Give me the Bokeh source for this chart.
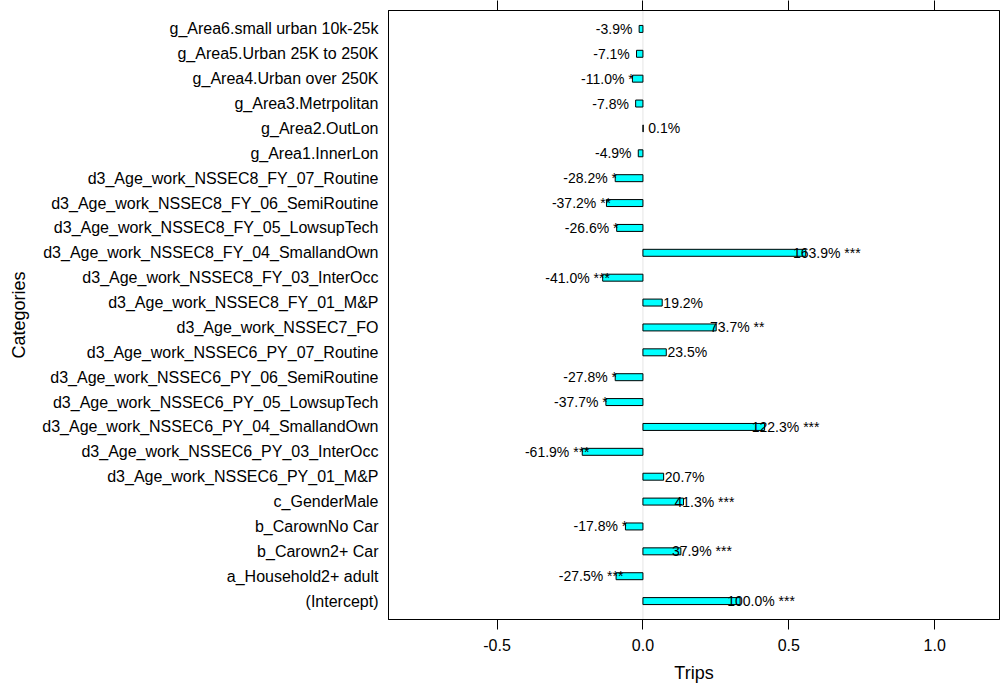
from bokeh.plotting import figure
from bokeh.models import (FactorRange, Range1d, LinearAxis, FixedTicker,
                          NumeralTickFormatter, Span, ColumnDataSource)
from bokeh.core.properties import value
from bokeh.embed import file_html
from bokeh.resources import INLINE

# ---- data (top row of the chart first) ----
categories = [
    "g_Area6.small urban 10k-25k",
    "g_Area5.Urban 25K to 250K",
    "g_Area4.Urban over 250K",
    "g_Area3.Metrpolitan",
    "g_Area2.OutLon",
    "g_Area1.InnerLon",
    "d3_Age_work_NSSEC8_FY_07_Routine",
    "d3_Age_work_NSSEC8_FY_06_SemiRoutine",
    "d3_Age_work_NSSEC8_FY_05_LowsupTech",
    "d3_Age_work_NSSEC8_FY_04_SmallandOwn",
    "d3_Age_work_NSSEC8_FY_03_InterOcc",
    "d3_Age_work_NSSEC8_FY_01_M&P",
    "d3_Age_work_NSSEC7_FO",
    "d3_Age_work_NSSEC6_PY_07_Routine",
    "d3_Age_work_NSSEC6_PY_06_SemiRoutine",
    "d3_Age_work_NSSEC6_PY_05_LowsupTech",
    "d3_Age_work_NSSEC6_PY_04_SmallandOwn",
    "d3_Age_work_NSSEC6_PY_03_InterOcc",
    "d3_Age_work_NSSEC6_PY_01_M&P",
    "c_GenderMale",
    "b_CarownNo Car",
    "b_Carown2+ Car",
    "a_Household2+ adult",
    "(Intercept)",
]
coefficients = [
    -0.013, -0.022, -0.036, -0.025, 0.001, -0.016,
    -0.095, -0.125, -0.090, 0.558, -0.138, 0.066,
    0.251, 0.080, -0.095, -0.127, 0.417, -0.208,
    0.071, 0.139, -0.060, 0.130, -0.092, 0.333,
]
percent = [
    -3.9, -7.1, -11.0, -7.8, 0.1, -4.9,
    -28.2, -37.2, -26.6, 163.9, -41.0, 19.2,
    73.7, 23.5, -27.8, -37.7, 122.3, -61.9,
    20.7, 41.3, -17.8, 37.9, -27.5, 100.0,
]
stars = [
    "", "", "*", "", "", "",
    "*", "**", "*", "***", "***", "",
    "**", "", "*", "*", "***", "***",
    "", "***", "*", "***", "***", "***",
]
x_ticks = [-0.5, 0.0, 0.5, 1.0]
x_title = "Trips"
y_title = "Categories"

FONT_NAME = "Liberation Sans"
FONT = value(FONT_NAME)

labels = [(f"{p:.1f}% {s}").strip() for p, s in zip(percent, stars)]

p = figure(
    width=1001, height=685,
    y_range=FactorRange(factors=list(reversed(categories)),
                        range_padding=0.24, range_padding_units="absolute"),
    x_range=Range1d(-0.872, 1.222),
    output_backend="svg", toolbar_location=None,
    min_border_left=388, min_border_right=2, min_border_top=0, min_border_bottom=0,
)
p.background_fill_color = "white"
p.border_fill_color = "white"
p.outline_line_color = "black"
p.outline_line_width = 1
p.outline_line_alpha = 1.0
p.xgrid.visible = False
p.ygrid.visible = False

# reference line at zero
p.add_layout(Span(location=0, dimension="height", line_color="#e6e6e6",
                  line_width=1, level="underlay"))

src = ColumnDataSource(dict(cat=categories, coef=coefficients, label=labels))
p.hbar(y="cat", left=0, right="coef", height=0.28, source=src,
       fill_color="#00FFFF", line_color="black", line_width=1)

pos = ColumnDataSource(dict(
    cat=[c for c, v in zip(categories, coefficients) if v >= 0],
    coef=[v for v in coefficients if v >= 0],
    label=[l for l, v in zip(labels, coefficients) if v >= 0]))
neg = ColumnDataSource(dict(
    cat=[c for c, v in zip(categories, coefficients) if v < 0],
    coef=[v for v in coefficients if v < 0],
    label=[l for l, v in zip(labels, coefficients) if v < 0]))

for s, off in ((pos, 21), (neg, -25)):
    p.text(x="coef", y="cat", text="label", source=s, x_offset=off,
           text_align="center", text_baseline="middle",
           text_font=FONT, text_font_size="14px", text_color="black")

# bottom axis
xa = p.xaxis[0]
xa.ticker = FixedTicker(ticks=x_ticks)
xa.formatter = NumeralTickFormatter(format="0.0")
xa.major_tick_out = 10
xa.major_tick_in = 0
xa.minor_tick_out = 0
xa.minor_tick_in = 0
xa.major_label_standoff = 9
xa.major_label_text_font = FONT_NAME
xa.major_label_text_font_size = "16px"
xa.major_label_text_color = "black"
xa.axis_label = x_title
xa.axis_label_text_font = FONT_NAME
xa.axis_label_text_font_size = "18px"
xa.axis_label_text_font_style = "normal"
xa.axis_label_text_color = "black"
xa.axis_label_standoff = 9
xa.axis_line_color = "black"
xa.major_tick_line_color = "black"

# top axis (ticks only)
top = LinearAxis(ticker=FixedTicker(ticks=x_ticks),
                 major_label_overrides={t: "" for t in x_ticks})
top.major_tick_out = 10
top.major_tick_in = 0
top.minor_tick_out = 0
top.minor_tick_in = 0
top.major_label_standoff = 0
top.major_label_text_font_size = "0px"
top.axis_line_color = "black"
top.major_tick_line_color = "black"
p.add_layout(top, "above")

# left axis
ya = p.yaxis[0]
ya.major_tick_out = 0
ya.major_tick_in = 0
ya.major_label_standoff = 10
ya.major_label_text_font = FONT_NAME
ya.major_label_text_font_size = "16px"
ya.major_label_text_color = "black"
ya.axis_label = y_title
ya.axis_label_text_font = FONT_NAME
ya.axis_label_text_font_size = "18px"
ya.axis_label_text_font_style = "normal"
ya.axis_label_text_color = "black"
ya.axis_label_standoff = 10
ya.axis_line_color = "black"

open("out.html", "w").write(file_html(p, INLINE))
